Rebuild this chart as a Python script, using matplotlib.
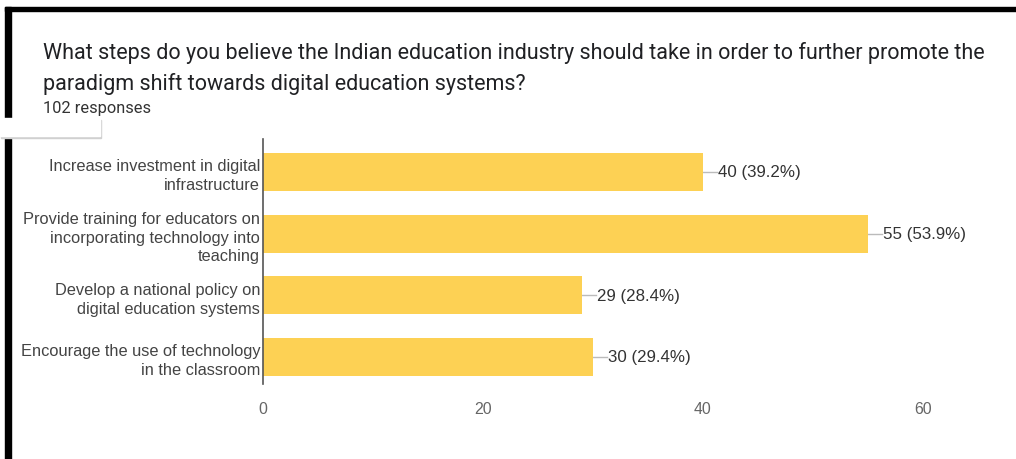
import matplotlib.pyplot as plt
from matplotlib.patches import Rectangle

categories = [
    'Increase investment in digital\ninfrastructure',
    'Provide training for educators on\nincorporating technology into\nteaching',
    'Develop a national policy on\ndigital education systems',
    'Encourage the use of technology\nin the classroom',
]
counts = [40, 55, 29, 30]
percents = [39.2, 53.9, 28.4, 29.4]
ticks = [0, 20, 40, 60]

title = ('What steps do you believe the Indian education industry should take in order to further promote the\n'
         'paradigm shift towards digital education systems?')
subtitle = '102 responses'

W, H = 1016, 460
fig = plt.figure(figsize=(W / 100, H / 100), dpi=100)
fig.patch.set_facecolor('white')


def px(x, y, w, h):
    # pixel box (top-left origin) -> figure fraction
    return [x / W, 1 - (y + h) / H, w / W, h / H]


# screenshot frame
fig.patches.append(Rectangle((5 / W, 1 - 12 / H), 1, 4 / H, transform=fig.transFigure, color='black', zorder=5))
fig.patches.append(Rectangle((5 / W, 0), 6 / W, 1 - 8 / H, transform=fig.transFigure, color='black', zorder=5))
fig.patches.append(Rectangle((1 / W, 1 - 139 / H), 100 / W, 18 / H, transform=fig.transFigure, color='#d0d0d0', zorder=6))
fig.patches.append(Rectangle((0, 1 - 137 / H), 100 / W, 18 / H, transform=fig.transFigure, color='white', zorder=7))

fig.text(43 / W, 1 - 42 / H, title, fontsize=15.5, family='Roboto', color='#202124',
         va='top', ha='left', linespacing=1.55)
fig.text(43 / W, 1 - 108 / H, subtitle, fontsize=11.8, family='Roboto', color='#333333',
         va='center', ha='left')

xmax = 68
ax = fig.add_axes(px(263, 140, 11 * xmax, 245))
ypos = list(range(len(counts)))
ax.barh(ypos, counts, height=0.62, color='#fdd154', zorder=2)

for y, c, p in zip(ypos, counts, percents):
    ax.plot([c, c + 1.3], [y, y], color='#bbbbbb', lw=1, zorder=1)
    ax.text(c + 1.4, y, f'{c} ({p}%)', fontsize=12.2, family='Liberation Sans',
            color='#333333', va='center', ha='left')

ax.set_ylim(3.44, -0.535)
ax.set_xlim(0, xmax)
ax.set_yticks(ypos)
ax.set_yticklabels(categories, fontsize=11.8, family='Liberation Sans', color='#444444', linespacing=1.32)
ax.set_xticks(ticks)
ax.set_xticklabels([str(t) for t in ticks], fontsize=11.4, family='Liberation Sans', color='#666666')
ax.tick_params(axis='both', length=0)
ax.tick_params(axis='y', pad=2)
ax.tick_params(axis='x', pad=12)
for s in ['top', 'right', 'bottom']:
    ax.spines[s].set_visible(False)
ax.spines['left'].set_color('#555555')
ax.spines['left'].set_linewidth(1.2)

fig.savefig('out.png', dpi=100)
